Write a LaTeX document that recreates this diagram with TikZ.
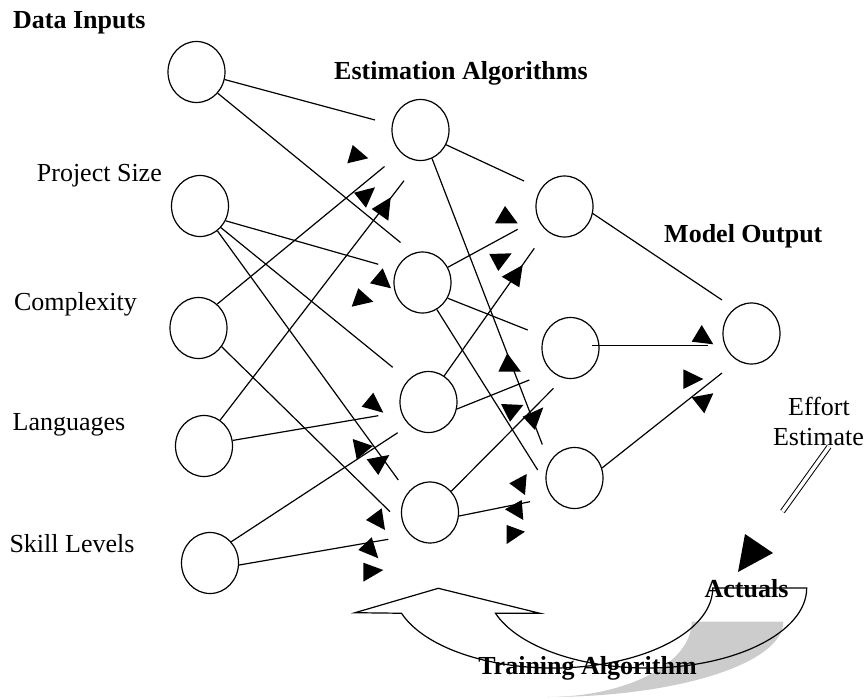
\documentclass[tikz,border=0pt]{standalone}
\usepackage{fontspec}
\setmainfont{Liberation Serif}
\usetikzlibrary{shapes.geometric}
\begin{document}
\begin{tikzpicture}[x=1pt,y=-1pt,
  neuron/.style={draw,ellipse,minimum width=57pt,minimum height=61pt,inner sep=0pt,line width=1.2pt},
  wire/.style={line width=1.2pt},
  tip/.style={fill=black},
  lbl/.style={font=\fontsize{26}{30}\selectfont,inner sep=0pt},
  head/.style={font=\fontsize{26}{30}\selectfont\bfseries,inner sep=0pt}]
\useasboundingbox (0,0) rectangle (868,698);

% --- neurons ---
\node[neuron] (i0) at (196.5,72) {};
\node[neuron] (i1) at (200,206) {};
\node[neuron] (i2) at (198.5,328) {};
\node[neuron] (i3) at (204,446) {};
\node[neuron] (i4) at (210,563) {};
\node[neuron] (h0) at (420.5,130) {};
\node[neuron] (h1) at (422.5,282.5) {};
\node[neuron] (h2) at (428.5,402) {};
\node[neuron] (h3) at (430,512.5) {};
\node[neuron] (j0) at (564.5,206.5) {};
\node[neuron] (j1) at (570.5,348) {};
\node[neuron] (j2) at (574.5,478) {};
\node[neuron] (out) at (751.5,333.5) {};

% --- loose ends of the weight lines ---
\coordinate (e1) at (375,120);
\coordinate (e2) at (400.5,242.5);
\coordinate (e3) at (378.3,264.3);
\coordinate (e4a) at (398.3,480);
\coordinate (e4b) at (392.7,367.3);
\coordinate (e5) at (384.5,166.5);
\coordinate (e6) at (390,511.7);
\coordinate (e7) at (404,180.7);
\coordinate (e8) at (378.3,415.7);
\coordinate (e9) at (397.7,432.7);
\coordinate (e10) at (388.3,539.3);
\coordinate (e11) at (524,181);
\coordinate (e12) at (542.3,444.5);
\coordinate (e13) at (517.7,229.3);
\coordinate (e14) at (527.7,330);
\coordinate (e15) at (537.7,470);
\coordinate (e16) at (534.3,248.3);
\coordinate (e17) at (529.3,380);
\coordinate (e18) at (553.5,388.3);
\coordinate (e19) at (530,501.7);
\coordinate (e20) at (722,300);
\coordinate (e21) at (708,345.7);
\coordinate (e22) at (722,373);

% --- weight lines ---
\draw[wire] (i0.-15.7) -- (e1);
\draw[wire] (i0.-45.6) -- (e2);
\draw[wire] (i1.-30.6) -- (e3);
\draw[wire] (i1.-55.7) -- (e4a);
\draw[wire] (i1.-46) -- (e4b);
\draw[wire] (i2.52) -- (e5);
\draw[wire] (i2.-39) -- (e6);
\draw[wire] (i3.58.7) -- (e7);
\draw[wire] (i3.11.7) -- (e8);
\draw[wire] (i4.45) -- (e9);
\draw[wire] (i4.-4) -- (e10);
\draw[wire] (h0.-30) -- (e11);
\draw[wire] (h0.-68) -- (e12);
\draw[wire] (h1.31) -- (e13);
\draw[wire] (h1.-32) -- (e14);
\draw[wire] (h1.-62) -- (e15);
\draw[wire] (h2.59) -- (e16);
\draw[wire] (h2.-14) -- (e17);
\draw[wire] (h3.45.6) -- (e18);
\draw[wire] (h3.-7) -- (e19);
\draw[wire] (j0.-14) -- (e20);
\draw[wire] ([shift={(21.8,-2.3)}]j1.center) -- (e21);
\draw[wire] (j2.20) -- (e22);

% --- arrow heads ---
\fill[tip] (352.7,145) -- (347.3,163.3) -- (368.3,158.3) -- cycle;
\fill[tip] (375,187.3) -- (354,192.7) -- (366,207.7) -- cycle;
\fill[tip] (390.7,197.3) -- (371.7,209) -- (388.3,220.7) -- cycle;
\fill[tip] (382.7,268.3) -- (370,283.3) -- (391,288.3) -- cycle;
\fill[tip] (358.3,288.3) -- (351.7,306.7) -- (373.3,301.7) -- cycle;
\fill[tip] (373.3,392.7) -- (361.7,406.7) -- (383.3,412.7) -- cycle;
\fill[tip] (352.7,439) -- (356.7,459.3) -- (373,446) -- cycle;
\fill[tip] (366.7,459.3) -- (389.3,455) -- (378.3,475) -- cycle;
\fill[tip] (381.7,508.3) -- (366,520) -- (385,530) -- cycle;
\fill[tip] (371.7,537.3) -- (358.3,550) -- (378.3,558.3) -- cycle;
\fill[tip] (363.3,562.7) -- (363.3,581.7) -- (383.3,570) -- cycle;
\fill[tip] (505,206) -- (495,223.3) -- (517.7,223.3) -- cycle;
\fill[tip] (489.3,254) -- (511.7,253.3) -- (498.3,271) -- cycle;
\fill[tip] (522.7,265) -- (501.7,276.7) -- (519.3,287.3) -- cycle;
\fill[tip] (507.3,353.3) -- (498.3,371.7) -- (521,371.7) -- cycle;
\fill[tip] (501,404) -- (523.3,405) -- (510,421.7) -- cycle;
\fill[tip] (543.3,407.3) -- (522.7,416.7) -- (535,430) -- cycle;
\fill[tip] (526.7,474) -- (509.3,483.3) -- (525,495) -- cycle;
\fill[tip] (521.7,500) -- (505,509.3) -- (523.3,520) -- cycle;
\fill[tip] (506.7,525) -- (506.7,544) -- (525,531.7) -- cycle;
\fill[tip] (701.7,325) -- (691.7,341.7) -- (713.3,344.3) -- cycle;
\fill[tip] (683.3,369.3) -- (683.3,389) -- (703.3,379) -- cycle;
\fill[tip] (713.3,393.3) -- (691.7,397.3) -- (704.3,413.3) -- cycle;
\fill[tip] (745,534) -- (738,572) -- (773,553) -- cycle;

% --- effort estimate link ---
\coordinate (ef1) at (782.5,511.5);
\coordinate (ef2) at (829,446.7);
\draw[double,double distance=3.5pt,line width=1pt] (ef1) -- (ef2);

% --- training loop: shaded face and curved up arrow ---
\fill[black!20] (783.3,621.7)
  arc[start angle=0,end angle=-90,x radius=236.3pt,y radius=75.3pt]
  arc[start angle=-90,end angle=0,x radius=144.7pt,y radius=75.3pt] -- cycle;
\draw[line width=1.2pt,line join=miter]
  (401.5,613.25) arc[start angle=198.4,end angle=360,x radius=159.7pt,y radius=80pt]
  -- (806.7,588)
  arc[start angle=360,end angle=198.4,x radius=159.7pt,y radius=80pt]
  -- (540,613.3) -- (438.3,588.3) -- (355,612.7) -- cycle;

% --- labels ---
\node[head,anchor=base west] (tIn) at (13,29) {Data Inputs};
\node[head,anchor=base west] (tEst) at (334,80) {Estimation Algorithms};
\node[head,anchor=base west] (tOut) at (664,242) {Model Output};
\node[lbl,anchor=base east] (tPS) at (162,182) {Project Size};
\node[lbl,anchor=base] (tCx) at (75.5,310) {Complexity};
\node[lbl,anchor=base] (tLg) at (69,430) {Languages};
\node[lbl,anchor=base] (tSk) at (72,552) {Skill Levels};
\node[lbl,anchor=base] (tEf) at (819,415) {Effort};
\node[lbl,anchor=base] (tEs) at (818.5,445) {Estimate};
\node[head,anchor=base] (tAc) at (746.5,597) {Actuals};
\node[head,anchor=base] (tTr) at (587.5,674) {Training Algorithm};
\end{tikzpicture}
\end{document}
